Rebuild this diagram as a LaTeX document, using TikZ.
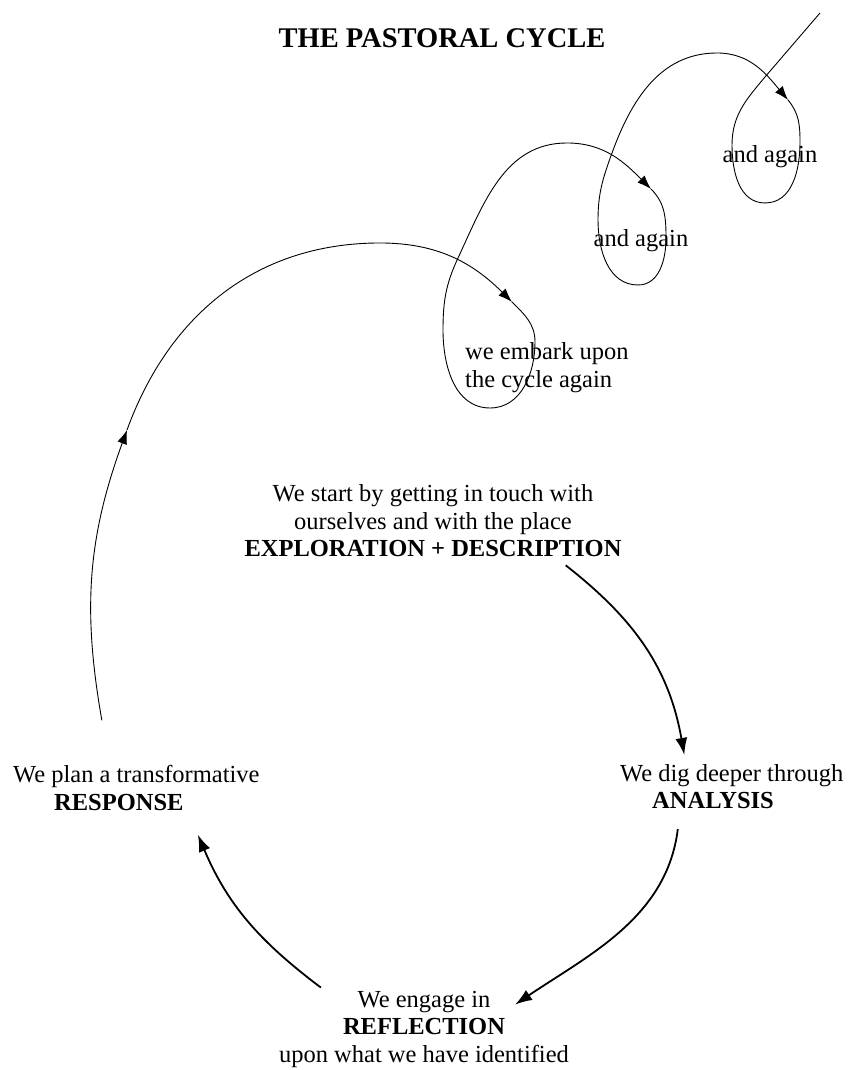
\documentclass[tikz,border=0pt]{standalone}
\usepackage{fontspec}
\setmainfont{Liberation Serif}
\usetikzlibrary{arrows.meta}

\begin{document}
\begin{tikzpicture}[x=1pt, y=1pt,
    txt/.style = {inner sep=0pt, align=center, font=\fontsize{24.5}{27.5}\selectfont},
    spiral/.style = {line width=0.9pt, -{Latex[length=14pt, width=10pt]}},
    turn/.style = {line width=1.8pt, -{Latex[length=17pt, width=12pt]}}]
                \useasboundingbox (0,0) rectangle (852,1070);

                \node[txt, font=\fontsize{28.5}{32}\selectfont\bfseries] at (442, 1032) (title) {THE PASTORAL CYCLE};
                \node[txt] at (433, 549) (explore) {We start by getting in touch with\\ourselves and with the place\\\textbf{EXPLORATION + DESCRIPTION}};
                \node[txt, align=left, anchor=west] at (620, 283.5) (analysis) {We dig deeper through\\\hspace*{32pt}\textbf{ANALYSIS}};
                \node[txt] at (424, 41) (reflect) {We engage in\\\textbf{REFLECTION}\\upon what we have identified};
                \node[txt, align=left, anchor=west] at (13, 282) (response) {We plan a transformative\\\hspace*{41pt}\textbf{RESPONSE}};
                \node[txt, align=left, anchor=west] at (465, 702.5) (embark) {we embark upon\\the cycle again};
                \node[txt] at (641, 829) (againA) {and again};
                \node[txt] at (770, 913) (againB) {and again};

                \coordinate (a1) at (127, 640);
                \coordinate (a2) at (512, 768);
                \coordinate (a3) at (651, 881);
                \coordinate (a4) at (788, 970);
                \coordinate (tail) at (820, 1057);

                \draw [turn] ([xshift=-56pt, yshift=-8pt]explore.south east) to[out=-38, in=100] ([xshift=-47.5pt, yshift=9pt]analysis.north);
                \draw [turn] ([xshift=-54pt, yshift=-20pt]analysis.south) to[out=-97, in=34, looseness=0.95] ([xshift=-54pt, yshift=-14pt]reflect.north east);
                \draw [turn] ([xshift=42pt, yshift=3pt]reflect.north west) to[out=143, in=-67] ([xshift=61.5pt, yshift=-24pt]response.south);

                \draw [spiral] ([xshift=-34.5pt, yshift=45pt]response.north) to[out=100, in=-110] (a1);
                \draw [spiral] (a1) to[out=70, in=180] (380, 827) to[out=0, in=135] (a2);
                \draw [spiral] (a2) to[out=-45, in=90] (535, 728) to[out=-90, in=0] (490, 662) to[out=180, in=-90] (443, 740)
                        to[out=90, in=-115] (458, 812) to[out=65, in=180] (567, 927) to[out=0, in=135] (a3);
                \draw [spiral] (a3) to[out=-45, in=90] (666, 832) to[out=-90, in=0] (638, 785) to[out=180, in=-90] (598, 850)
                        to[out=90, in=-110] (612, 917) to[out=70, in=180] (717, 1017) to[out=0, in=130] (a4);
                \draw [line width=0.9pt] (a4) to[out=-50, in=90] (800, 928) to[out=-90, in=0] (765, 867) to[out=180, in=-90] (732, 925)
                        to[out=90, in=-130] (765, 993) -- (tail);
            \end{tikzpicture}
\end{document}
